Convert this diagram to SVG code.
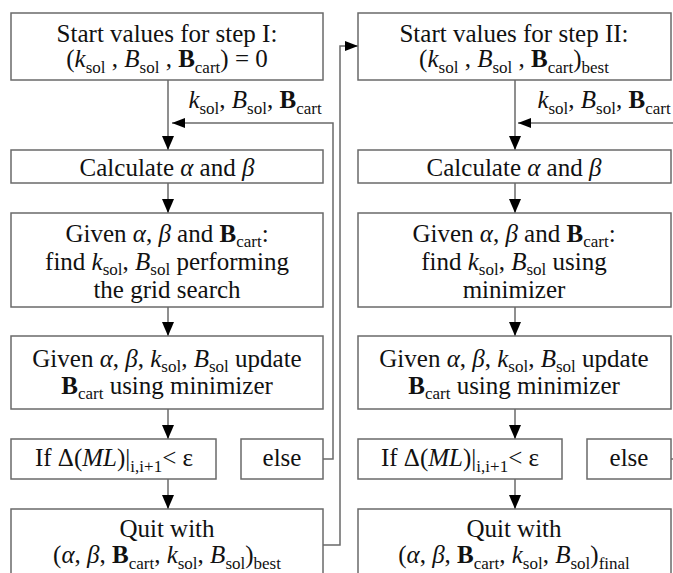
<svg xmlns="http://www.w3.org/2000/svg" width="673" height="573" viewBox="0 0 673 573">
<style>
.box { fill: #fff; stroke: #6a6a6a; stroke-width: 1.5; }
.ln { fill: none; stroke: #6a6a6a; stroke-width: 1.5; }
.lbl { font-family: 'Liberation Serif', serif; font-size: 25px; fill: #111; text-anchor: middle; }
.it { font-style: italic; }
.bd { font-weight: bold; }
.sb { font-size: 17px; }
</style>
<defs>
<marker id="ah" markerUnits="userSpaceOnUse" markerWidth="14" markerHeight="12" refX="14" refY="6" orient="auto">
<path d="M0,0 L14,6 L0,12 z" fill="#000"/>
</marker>
<marker id="ahs" markerUnits="userSpaceOnUse" markerWidth="13" markerHeight="10" refX="13" refY="5" orient="auto">
<path d="M0,0 L13,5 L0,10 z" fill="#000"/>
</marker>
</defs>
<rect width="673" height="573" fill="#fff"/>

<g id="connectors">
<line class="ln" x1="168" y1="80" x2="168" y2="150" marker-end="url(#ah)"/>
<polyline class="ln" points="323,459 333,459 333,123 172,123" marker-end="url(#ahs)"/>
<line class="ln" x1="168" y1="183" x2="168" y2="213" marker-end="url(#ah)"/>
<line class="ln" x1="168" y1="307" x2="168" y2="336" marker-end="url(#ah)"/>
<line class="ln" x1="168" y1="409" x2="168" y2="439" marker-end="url(#ah)"/>
<line class="ln" x1="168" y1="479" x2="168" y2="509" marker-end="url(#ah)"/>
<polyline class="ln" points="323,545 340,545 340,46 358,46" marker-end="url(#ahs)"/>
<line class="ln" x1="515" y1="80" x2="515" y2="150" marker-end="url(#ah)"/>
<polyline class="ln" points="673,123 518,123" marker-end="url(#ahs)"/>
<line class="ln" x1="671" y1="459" x2="673" y2="459"/>
<line class="ln" x1="515" y1="183" x2="515" y2="213" marker-end="url(#ah)"/>
<line class="ln" x1="515" y1="307" x2="515" y2="336" marker-end="url(#ah)"/>
<line class="ln" x1="515" y1="409" x2="515" y2="439" marker-end="url(#ah)"/>
<line class="ln" x1="515" y1="479" x2="515" y2="509" marker-end="url(#ah)"/>
<text class="lbl" x="255" y="108"><tspan class="it">k</tspan><tspan class="sb" dy="6">sol</tspan><tspan dy="-6">, </tspan><tspan class="it">B</tspan><tspan class="sb" dy="6">sol</tspan><tspan dy="-6">, </tspan><tspan class="bd">B</tspan><tspan class="sb" dy="6">cart</tspan></text>
<text class="lbl" x="604" y="108"><tspan class="it">k</tspan><tspan class="sb" dy="6">sol</tspan><tspan dy="-6">, </tspan><tspan class="it">B</tspan><tspan class="sb" dy="6">sol</tspan><tspan dy="-6">, </tspan><tspan class="bd">B</tspan><tspan class="sb" dy="6">cart</tspan></text>
</g>

<g id="start1">
<rect class="box" x="11" y="13" width="312" height="67"/>
<text class="lbl" x="167" y="42">Start values for step I:</text>
<text class="lbl" x="167" y="67">(<tspan class="it">k</tspan><tspan class="sb" dy="6">sol</tspan><tspan dy="-6"> , </tspan><tspan class="it">B</tspan><tspan class="sb" dy="6">sol</tspan><tspan dy="-6"> , </tspan><tspan class="bd">B</tspan><tspan class="sb" dy="6">cart</tspan><tspan dy="-6">) = 0</tspan></text>
</g>

<g id="calc1">
<rect class="box" x="11" y="150" width="312" height="33"/>
<text class="lbl" x="167" y="176">Calculate <tspan class="it">α</tspan> and <tspan class="it">β</tspan></text>
</g>

<g id="grid1">
<rect class="box" x="11" y="213" width="312" height="94"/>
<text class="lbl" x="167" y="242">Given <tspan class="it">α</tspan>, <tspan class="it">β</tspan> and <tspan class="bd">B</tspan><tspan class="sb" dy="5">cart</tspan><tspan dy="-5">:</tspan></text>
<text class="lbl" x="167" y="270">find <tspan class="it">k</tspan><tspan class="sb" dy="5">sol</tspan><tspan dy="-5">, </tspan><tspan class="it">B</tspan><tspan class="sb" dy="5">sol</tspan><tspan dy="-5"> performing</tspan></text>
<text class="lbl" x="167" y="298">the grid search</text>
</g>

<g id="update1">
<rect class="box" x="11" y="336" width="312" height="73"/>
<text class="lbl" x="167" y="367">Given <tspan class="it">α</tspan>, <tspan class="it">β</tspan>, <tspan class="it">k</tspan><tspan class="sb" dy="5">sol</tspan><tspan dy="-5">, </tspan><tspan class="it">B</tspan><tspan class="sb" dy="5">sol</tspan><tspan dy="-5"> update</tspan></text>
<text class="lbl" x="167" y="394"><tspan class="bd">B</tspan><tspan class="sb" dy="5">cart</tspan><tspan dy="-5"> using minimizer</tspan></text>
</g>

<g id="if1">
<rect class="box" x="11" y="439" width="205" height="40"/>
<text class="lbl" x="114" y="466">If Δ(<tspan class="it">ML</tspan>)|<tspan class="sb" dy="6">i,i+1</tspan><tspan dy="-6">&lt; ε</tspan></text>
</g>

<g id="else1">
<rect class="box" x="241" y="439" width="82" height="40"/>
<text class="lbl" x="282" y="466">else</text>
</g>

<g id="quit1">
<rect class="box" x="11" y="509" width="312" height="70"/>
<text class="lbl" x="167" y="537">Quit with</text>
<text class="lbl" x="167" y="563">(<tspan class="it">α</tspan>, <tspan class="it">β</tspan>, <tspan class="bd">B</tspan><tspan class="sb" dy="6">cart</tspan><tspan dy="-6">, </tspan><tspan class="it">k</tspan><tspan class="sb" dy="6">sol</tspan><tspan dy="-6">, </tspan><tspan class="it">B</tspan><tspan class="sb" dy="6">sol</tspan><tspan dy="-6">)</tspan><tspan class="sb" dy="6">best</tspan></text>
</g>

<g id="start2">
<rect class="box" x="358" y="13" width="313" height="67"/>
<text class="lbl" x="514" y="42">Start values for step II:</text>
<text class="lbl" x="514" y="67">(<tspan class="it">k</tspan><tspan class="sb" dy="6">sol</tspan><tspan dy="-6"> , </tspan><tspan class="it">B</tspan><tspan class="sb" dy="6">sol</tspan><tspan dy="-6"> , </tspan><tspan class="bd">B</tspan><tspan class="sb" dy="6">cart</tspan><tspan dy="-6">)</tspan><tspan class="sb" dy="6">best</tspan></text>
</g>

<g id="calc2">
<rect class="box" x="358" y="150" width="313" height="33"/>
<text class="lbl" x="514" y="176">Calculate <tspan class="it">α</tspan> and <tspan class="it">β</tspan></text>
</g>

<g id="min2">
<rect class="box" x="358" y="213" width="313" height="94"/>
<text class="lbl" x="514" y="242">Given <tspan class="it">α</tspan>, <tspan class="it">β</tspan> and <tspan class="bd">B</tspan><tspan class="sb" dy="5">cart</tspan><tspan dy="-5">:</tspan></text>
<text class="lbl" x="514" y="270">find <tspan class="it">k</tspan><tspan class="sb" dy="5">sol</tspan><tspan dy="-5">, </tspan><tspan class="it">B</tspan><tspan class="sb" dy="5">sol</tspan><tspan dy="-5"> using</tspan></text>
<text class="lbl" x="514" y="298">minimizer</text>
</g>

<g id="update2">
<rect class="box" x="358" y="336" width="313" height="73"/>
<text class="lbl" x="514" y="367">Given <tspan class="it">α</tspan>, <tspan class="it">β</tspan>, <tspan class="it">k</tspan><tspan class="sb" dy="5">sol</tspan><tspan dy="-5">, </tspan><tspan class="it">B</tspan><tspan class="sb" dy="5">sol</tspan><tspan dy="-5"> update</tspan></text>
<text class="lbl" x="514" y="394"><tspan class="bd">B</tspan><tspan class="sb" dy="5">cart</tspan><tspan dy="-5"> using minimizer</tspan></text>
</g>

<g id="if2">
<rect class="box" x="358" y="439" width="204" height="40"/>
<text class="lbl" x="460" y="466">If Δ(<tspan class="it">ML</tspan>)|<tspan class="sb" dy="6">i,i+1</tspan><tspan dy="-6">&lt; ε</tspan></text>
</g>

<g id="else2">
<rect class="box" x="587" y="439" width="84" height="40"/>
<text class="lbl" x="629" y="466">else</text>
</g>

<g id="quit2">
<rect class="box" x="358" y="509" width="313" height="70"/>
<text class="lbl" x="514" y="537">Quit with</text>
<text class="lbl" x="514" y="563">(<tspan class="it">α</tspan>, <tspan class="it">β</tspan>, <tspan class="bd">B</tspan><tspan class="sb" dy="6">cart</tspan><tspan dy="-6">, </tspan><tspan class="it">k</tspan><tspan class="sb" dy="6">sol</tspan><tspan dy="-6">, </tspan><tspan class="it">B</tspan><tspan class="sb" dy="6">sol</tspan><tspan dy="-6">)</tspan><tspan class="sb" dy="6">final</tspan></text>
</g>
</svg>
